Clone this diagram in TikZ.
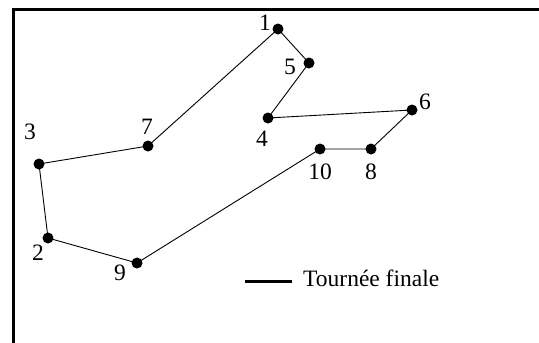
\documentclass[tikz,border=0pt]{standalone}
\usepackage{fontspec}
\setmainfont{Liberation Serif}
\begin{document}
\begin{tikzpicture}[x=1pt,y=-1pt,
  city/.style={circle,fill=black,inner sep=0pt,minimum size=11pt},
  lbl/.style={inner sep=0pt,font=\fontsize{23.5}{23.5}\selectfont},
  tour/.style={line width=0.9pt},
  frameline/.style={line width=3.5pt},
  legendline/.style={line width=3pt}]
\useasboundingbox (0,0) rectangle (539,343);
\draw[frameline] (13.5,343) -- (13.5,9.5) -- (539,9.5);
% cities
\node[city] (c1) at (278,29) {};
\node[city] (c5) at (309,63) {};
\node[city] (c4) at (268,118) {};
\node[city] (c6) at (412,110) {};
\node[city] (c8) at (371,149) {};
\node[city] (c10) at (320,149) {};
\node[city] (c9) at (137,263) {};
\node[city] (c2) at (48,238) {};
\node[city] (c3) at (39,164) {};
\node[city] (c7) at (148,146) {};
% labels
\node[lbl] (l1) at (265,23) {1};
\node[lbl] (l5) at (290,67) {5};
\node[lbl] (l4) at (262,139) {4};
\node[lbl] (l6) at (425,102) {6};
\node[lbl] (l8) at (371,172) {8};
\node[lbl] (l10) at (320,172) {10};
\node[lbl] (l9) at (120,273) {9};
\node[lbl] (l2) at (38,253) {2};
\node[lbl] (l3) at (30,132) {3};
\node[lbl] (l7) at (147,127) {7};
% tour
\draw[tour] (c1.center) -- (c5.center) -- (c4.center) -- (c6.center) -- (c8.center)
  -- (c10.center) -- (c9.center) -- (c2.center) -- (c3.center) -- (c7.center) -- (c1.center);
% legend
\coordinate (la) at (245,281);
\coordinate (lb) at (292,281);
\draw[legendline] (la) -- (lb);
\node[lbl,anchor=west] (lt) at (303,278) {Tournée finale};
\end{tikzpicture}
\end{document}
